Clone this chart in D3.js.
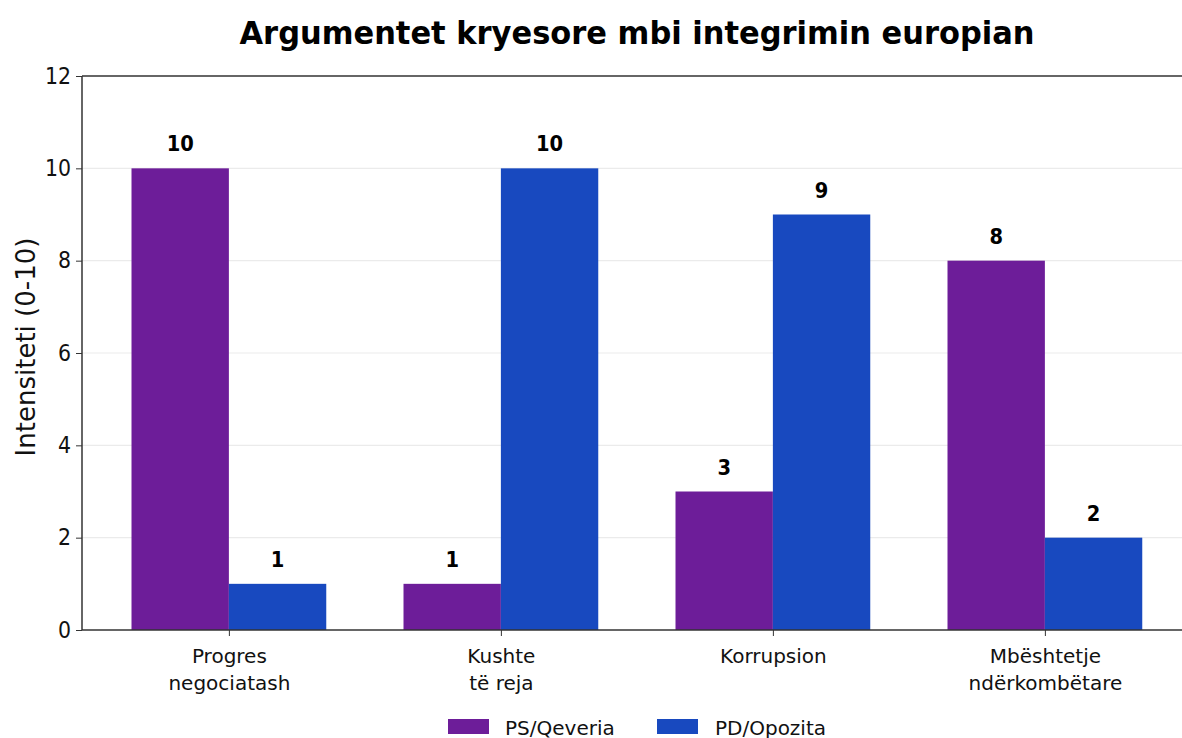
<!DOCTYPE html>
<html><head><meta charset="utf-8">
<script src="https://cdn.jsdelivr.net/npm/d3@7"></script>
<style>body{margin:0;background:#fff}svg{display:block}</style>
</head><body>
<svg id="c" width="1182" height="738"></svg>
<script>
const categories = [["Progres","negociatash"],["Kushte","të reja"],["Korrupsion"],["Mbështetje","ndërkombëtare"]];
const seriesNames = ["PS/Qeveria","PD/Opozita"];
const psValues = [10, 1, 3, 8];
const pdValues = [1, 10, 9, 2];
const yTicks = [0, 2, 4, 6, 8, 10, 12];
const colors = ["#6d1d99", "#1849bf"];

const svg = d3.select("#c");
const mLeft = 82, mTop = 76, mBottom = 630, mRight = 1190;
const x = d3.scaleLinear().domain([-0.54, 3.54]).range([mLeft, mLeft + 4.08 * 272]);
const y = d3.scaleLinear().domain([0, 12]).range([mBottom, mTop]);
const bw = 0.358;
const font = "'DejaVu Sans', sans-serif";

// grid
svg.append("g").selectAll("line").data(yTicks.filter(t => t > 0 && t < 12)).join("line")
  .attr("x1", mLeft).attr("x2", mRight).attr("y1", d => y(d)).attr("y2", d => y(d))
  .attr("stroke", "#ebebeb").attr("stroke-width", 1.2);

const series = [psValues, pdValues];
series.forEach((vals, si) => {
  svg.append("g").selectAll("rect").data(vals).join("rect")
    .attr("x", (d, i) => x(i + (si === 0 ? -bw : 0)))
    .attr("width", x(bw) - x(0))
    .attr("y", d => y(d)).attr("height", d => y(0) - y(d))
    .attr("fill", colors[si]);
  svg.append("g").selectAll("text").data(vals).join("text")
    .attr("transform", (d, i) => `translate(${x(i + (si === 0 ? -bw / 2 : bw / 2))},${y(d) - 17}) scale(1,1.12)`)
    .attr("text-anchor", "middle")
    .attr("font-family", font).attr("font-weight", "bold").attr("font-size", 19.5)
    .attr("fill", "#000").text(d => d);
});

// y axis
const ya = svg.append("g").attr("transform", `translate(${mLeft},0)`)
  .call(d3.axisLeft(y).tickValues(yTicks).tickSize(6).tickPadding(5));
ya.select(".domain").remove();
ya.selectAll("text").attr("font-family", font).attr("font-size", 20.5).attr("fill", "#111")
  .attr("transform", "scale(1,1.1)");
ya.selectAll("line").attr("stroke", "#333");

// x axis ticks
const xa = svg.append("g").attr("transform", `translate(0,${mBottom})`)
  .call(d3.axisBottom(x).tickValues([0, 1, 2, 3]).tickSize(6).tickFormat(""));
xa.select(".domain").remove();
xa.selectAll("line").attr("stroke", "#333");
xa.selectAll(".tick").each(function(d) {
  const t = d3.select(this).append("text").attr("fill", "#111")
    .attr("font-family", font).attr("font-size", 20).attr("text-anchor", "middle");
  categories[d].forEach((line, k) => {
    t.append("tspan").attr("x", 0).attr("y", 33 + k * 27).text(line);
  });
});

// spines
svg.append("line").attr("x1", mLeft).attr("x2", mLeft).attr("y1", mTop).attr("y2", mBottom).attr("stroke", "#333").attr("stroke-width", 1.5);
svg.append("line").attr("x1", mLeft).attr("x2", mRight).attr("y1", mBottom).attr("y2", mBottom).attr("stroke", "#333").attr("stroke-width", 1.5);
svg.append("line").attr("x1", mLeft).attr("x2", mRight).attr("y1", mTop).attr("y2", mTop).attr("stroke", "#333").attr("stroke-width", 1.5);

// y label
svg.append("text").attr("transform", `translate(35,${(mTop + mBottom) / 2 - 6}) rotate(-90)`)
  .attr("text-anchor", "middle").attr("font-family", font).attr("font-size", 26)
  .attr("fill", "#111").text("Intensiteti (0-10)");

// title
svg.append("text").attr("transform", "translate(637,44) scale(1,1.05)").attr("text-anchor", "middle")
  .attr("font-family", font).attr("font-weight", "bold").attr("font-size", 30.5)
  .attr("fill", "#000").text("Argumentet kryesore mbi integrimin europian");

// legend
const lg = [[448, 505], [657, 715]];
seriesNames.forEach((n, i) => {
  svg.append("rect").attr("x", lg[i][0]).attr("y", 719).attr("width", 41).attr("height", 15).attr("fill", colors[i]);
  svg.append("text").attr("x", lg[i][1]).attr("y", 735).attr("font-family", font).attr("font-size", 20)
    .attr("fill", "#111").text(n);
});
</script>
</body></html>
